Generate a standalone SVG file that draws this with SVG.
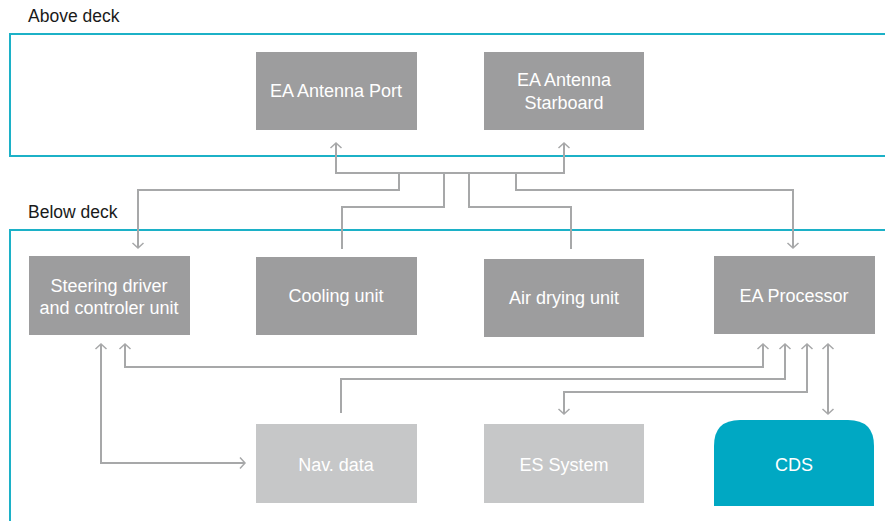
<svg xmlns="http://www.w3.org/2000/svg" width="885" height="521" viewBox="0 0 885 521">
<defs>
<marker id="arr" viewBox="-7 -7 14 14" markerWidth="14" markerHeight="14" markerUnits="userSpaceOnUse" orient="auto-start-reverse">
<path d="M-5,-5.5 L0,0 L-5,5.5" fill="none" stroke="#a7a8a9" stroke-width="1.5"/>
</marker>
</defs>
<style>
.deck{fill:none;stroke:#1cb1c7;stroke-width:2}
.lbl{font-family:"Liberation Sans",Arial,sans-serif;font-size:17.5px;fill:#1a1a1a}
.dark{fill:#9d9d9e}
.light{fill:#c6c7c8}
.cds{fill:#00a8c3}
.t{font-family:"Liberation Sans",Arial,sans-serif;font-size:18px;fill:#ffffff;text-anchor:middle}
.c{fill:none;stroke:#a7a8a9;stroke-width:2}
</style>
<rect width="885" height="521" fill="#ffffff"/>
<g id="above-deck">
<rect class="deck" x="10" y="34" width="890" height="122"/>
<text class="lbl" x="28" y="22">Above deck</text>
</g>
<g id="below-deck">
<rect class="deck" x="10" y="230" width="890" height="300"/>
<text class="lbl" x="28" y="218">Below deck</text>
</g>
<g id="connectors">
<path class="c" d="M336,143 V173 H564 V143" marker-start="url(#arr)" marker-end="url(#arr)"/>
<path class="c" d="M399,173 V190 H138 V248" marker-end="url(#arr)"/>
<path class="c" d="M444,173 V207 H342 V249"/>
<path class="c" d="M469,173 V207 H571 V249"/>
<path class="c" d="M516,173 V190 H793 V248" marker-end="url(#arr)"/>
<path class="c" d="M125,344 V367 H763 V344" marker-start="url(#arr)" marker-end="url(#arr)"/>
<path class="c" d="M341,413 V379 H785 V344" marker-end="url(#arr)"/>
<path class="c" d="M807,344 V392 H564 V414" marker-start="url(#arr)" marker-end="url(#arr)"/>
<path class="c" d="M828,344 V414" marker-start="url(#arr)" marker-end="url(#arr)"/>
<path class="c" d="M101,344 V463 H245" marker-start="url(#arr)" marker-end="url(#arr)"/>
</g>
<g id="ea-antenna-port">
<rect class="dark" x="256" y="52" width="161" height="78"/>
<text class="t" x="336" y="97">EA Antenna Port</text>
</g>
<g id="ea-antenna-starboard">
<rect class="dark" x="484" y="52" width="160" height="78"/>
<text class="t" x="564" y="86">EA Antenna</text>
<text class="t" x="564" y="109">Starboard</text>
</g>
<g id="steering">
<rect class="dark" x="29" y="256" width="161" height="79"/>
<text class="t" x="109" y="292">Steering driver</text>
<text class="t" x="109" y="314">and controler unit</text>
</g>
<g id="cooling">
<rect class="dark" x="256" y="257" width="161" height="78"/>
<text class="t" x="336" y="302">Cooling unit</text>
</g>
<g id="air-drying">
<rect class="dark" x="484" y="259" width="160" height="78"/>
<text class="t" x="564" y="304">Air drying unit</text>
</g>
<g id="ea-processor">
<rect class="dark" x="714" y="256" width="161" height="78"/>
<text class="t" x="794" y="302">EA Processor</text>
</g>
<g id="nav-data">
<rect class="light" x="256" y="424" width="161" height="79"/>
<text class="t" x="336" y="471">Nav. data</text>
</g>
<g id="es-system">
<rect class="light" x="484" y="424" width="160" height="79"/>
<text class="t" x="564" y="471">ES System</text>
</g>
<g id="cds">
<path class="cds" d="M714,506 V446 Q714,420 740,420 H848 Q874,420 874,446 V506 Z"/>
<text class="t" x="794" y="471">CDS</text>
</g>
</svg>
